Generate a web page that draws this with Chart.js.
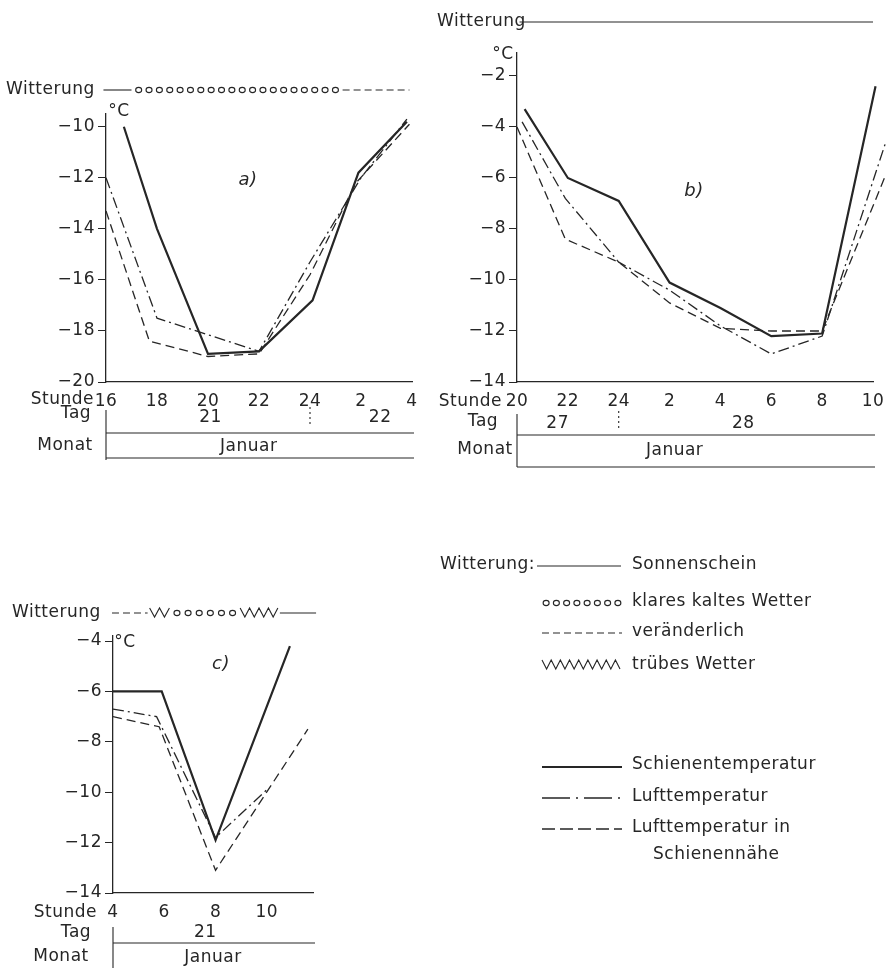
<!DOCTYPE html>
<html lang="de">
<head>
<meta charset="UTF-8">
<title>Schienentemperatur und Lufttemperatur</title>
<script src="https://cdn.jsdelivr.net/npm/chart.js"></script>
<style>
  body { margin: 0; background: #fff; }
  .blatt { position: relative; width: 892px; height: 968px; }
  .blatt canvas { position: absolute; left: 0; top: 0; }
</style>
</head>
<body>
<div class="blatt">
  <canvas id="bildA" width="892" height="968"></canvas>
  <canvas id="bildB" width="892" height="968"></canvas>
  <canvas id="bildC" width="892" height="968"></canvas>
</div>
<script>
// --- Messwerte (Stunde, Temperatur in °C) ---
// a) 21./22. Januar
const stundenA_schiene = [16.7, 18, 20, 22, 24.1, 25.9, 27.8];
const tempA_schiene    = [-10.0, -14.0, -18.9, -18.8, -16.8, -11.8, -9.8];
const stundenA_luft    = [16, 18, 22, 24, 26, 27.8];
const tempA_luft       = [-12.0, -17.5, -18.8, -15.3, -12.0, -9.7];
const stundenA_nah     = [16, 17.7, 20, 22, 24, 25.8, 27.9];
const tempA_nah        = [-13.3, -18.4, -19.0, -18.9, -15.8, -12.2, -9.9];

// b) 27./28. Januar
const stundenB_schiene = [20.3, 22, 24, 26, 28, 30, 32, 34.1];
const tempB_schiene    = [-3.3, -6.0, -6.9, -10.1, -11.1, -12.2, -12.1, -2.4];
const stundenB_luft    = [20.2, 21.9, 24, 26, 28, 30, 32, 34.5];
const tempB_luft       = [-3.8, -6.8, -9.3, -10.4, -11.8, -12.9, -12.2, -4.6];
const stundenB_nah     = [20, 21.9, 24, 26, 28, 30, 32, 34.45];
const tempB_nah        = [-4.0, -8.4, -9.3, -10.9, -11.9, -12.0, -12.0, -6.0];

// c) 21. Januar
const stundenC_schiene = [4, 5.9, 8, 10.9];
const tempC_schiene    = [-6.0, -6.0, -11.9, -4.2];
const stundenC_luft    = [4, 5.7, 8, 10];
const tempC_luft       = [-6.7, -7.0, -11.8, -9.9];
const stundenC_nah     = [4, 5.8, 8, 11.6];
const tempC_nah        = [-7.0, -7.4, -13.1, -7.5];

// Witterung: Art je Abschnitt und Abschnittsgrenzen in Stunden
const wetterA = ['sonne', 'klar', 'wechsel'];
const grenzenA = [15.9, 17.0, 25.2, 27.9];
const wetterB = ['sonne'];
const grenzenB = [20.1, 34.0];
const wetterC = ['wechsel', 'trueb', 'klar', 'trueb', 'sonne'];
const grenzenC = [3.96, 5.35, 6.2, 8.88, 10.43, 11.92];

// Tage und Monat unter der Zeitachse
const tageA = ['21', '22'];
const tagStundenA = [20.1, 26.75];
const tageB = ['27', '28'];
const tagStundenB = [21.6, 28.9];
const tageC = ['21'];
const tagStundenC = [7.6];

const reihenNamen = ['Schienentemperatur', 'Lufttemperatur', 'Lufttemperatur in', 'Schienennähe'];
const wetterNamen = ['Sonnenschein', 'klares kaltes Wetter', 'veränderlich', 'trübes Wetter'];

const tinte = '#262626';
const familie = '"DejaVu Sans", "Liberation Sans", sans-serif';
const schrift = '17px ' + familie;
const abstand = '0.5px';

const stil = {
  schiene: { borderColor: tinte, borderWidth: 2.2 },
  luft:    { borderColor: tinte, borderWidth: 1.3, borderDash: [11, 4, 2, 4] },
  nah:     { borderColor: tinte, borderWidth: 1.3, borderDash: [9, 5] }
};

function reihe(stunden, temps, art, ohneClip) {
  return Object.assign({
    data: stunden.map((h, i) => ({ x: h, y: temps[i] })),
    clip: ohneClip ? false : undefined
  }, stil[art]);
}

function muster(ctx, art, x1, x2, y) {
  ctx.save();
  ctx.strokeStyle = tinte;
  ctx.lineWidth = 1.1;
  ctx.setLineDash([]);
  ctx.beginPath();
  if (art === 'sonne') {
    ctx.moveTo(x1, y); ctx.lineTo(x2, y);
  } else if (art === 'wechsel') {
    ctx.setLineDash([7, 4]);
    ctx.moveTo(x1, y); ctx.lineTo(x2, y);
  } else if (art === 'klar') {
    const n = Math.max(1, Math.round((x2 - x1) / 10.5));
    const d = (x2 - x1) / n;
    for (let i = 0; i < n; i++) {
      const cx = x1 + d * (i + 0.5);
      ctx.moveTo(cx + 3, y);
      ctx.ellipse(cx, y, 3, 2.6, 0, 0, Math.PI * 2);
    }
  } else if (art === 'trueb') {
    const n = Math.max(2, Math.round((x2 - x1) / 4.5));
    const d = (x2 - x1) / n;
    ctx.moveTo(x1, y - 5);
    for (let i = 1; i <= n; i++) ctx.lineTo(x1 + d * i, i % 2 ? y + 4 : y - 5);
  }
  ctx.stroke();
  ctx.restore();
}

function text(ctx, t, x, y, align, font) {
  ctx.font = font || schrift;
  ctx.textAlign = align || 'left';
  ctx.textBaseline = 'middle';
  ctx.fillStyle = tinte;
  ctx.fillText(t, x, y);
}

function linie(ctx, x1, y1, x2, y2, dash) {
  ctx.save();
  ctx.strokeStyle = tinte;
  ctx.lineWidth = 1.1;
  ctx.setLineDash(dash || []);
  ctx.beginPath(); ctx.moveTo(x1, y1); ctx.lineTo(x2, y2); ctx.stroke();
  ctx.restore();
}

const beiwerk = {
  id: 'beiwerk',
  beforeDraw(chart) {
    chart.ctx.letterSpacing = abstand;
  },
  afterDraw(chart, args, o) {
    const ctx = chart.ctx;
    const xs = chart.scales.x;
    const ca = chart.chartArea;
    const px = h => xs.getPixelForValue(h);
    ctx.save();
    ctx.letterSpacing = abstand;

    // Witterung
    const w = o.witterung;
    text(ctx, 'Witterung', w.labelX, w.y);
    w.teile.forEach((art, i) => {
      muster(ctx, art, px(w.grenzen[i]) + (i ? 2 : 0), px(w.grenzen[i + 1]), w.y);
    });

    text(ctx, '°C', o.grad.x, o.grad.y, 'center');
    text(ctx, o.panel.text, o.panel.x, o.panel.y, 'center', 'italic 18px ' + familie);

    // Stunde / Tag / Monat
    const z = o.zeilen;
    text(ctx, 'Stunde', z.stundeX, z.stundeY, 'right');
    text(ctx, 'Tag', z.tagX, z.tagY, 'center');
    text(ctx, 'Monat', z.monatX, z.monatY, 'center');
    z.tage.forEach((t, i) => text(ctx, t, px(z.tagStunden[i]), z.tagTextY, 'center'));
    text(ctx, 'Januar', px(z.monatStunde), z.monatTextY, 'center');
    linie(ctx, ca.left, z.oben, ca.left, z.unten);
    linie(ctx, ca.left, z.linie1, ca.right + 2, z.linie1);
    if (z.linie2) linie(ctx, ca.left, z.linie2, ca.right + 2, z.linie2);
    if (z.trenner) linie(ctx, px(z.trenner), z.oben - 3, px(z.trenner), z.linie1 - 6, [2, 3]);

    if (o.legende) {
      text(ctx, 'Witterung:', 440, 565);
      muster(ctx, 'sonne', 537, 621, 566);
      text(ctx, wetterNamen[0], 632, 565);
      muster(ctx, 'klar', 541, 623, 603);
      text(ctx, wetterNamen[1], 632, 602);
      muster(ctx, 'wechsel', 542, 622, 633);
      text(ctx, wetterNamen[2], 632, 632);
      muster(ctx, 'trueb', 542, 620, 665);
      text(ctx, wetterNamen[3], 632, 665);

      const probe = (y, s, dash) => {
        ctx.save();
        ctx.strokeStyle = tinte;
        ctx.lineWidth = s.borderWidth;
        ctx.setLineDash(dash);
        ctx.beginPath(); ctx.moveTo(542, y); ctx.lineTo(622, y); ctx.stroke();
        ctx.restore();
      };
      probe(767, stil.schiene, []);
      text(ctx, reihenNamen[0], 632, 765);
      probe(798, stil.luft, [28, 6, 2, 6]);
      text(ctx, reihenNamen[1], 632, 797);
      probe(829, stil.nah, [13, 5]);
      text(ctx, reihenNamen[2], 632, 828);
      text(ctx, reihenNamen[3], 653, 855);
    }
    ctx.restore();
  }
};

function diagramm(id, flaeche, xMin, xMax, yMin, yMax, datensaetze, deko) {
  const stundeText = v => {
    const h = v % 24;
    return h === 0 ? '24' : String(h);
  };
  return new Chart(document.getElementById(id), {
    type: 'line',
    data: { datasets: datensaetze },
    options: {
      responsive: false,
      animation: false,
      devicePixelRatio: 1,
      events: [],
      elements: { point: { radius: 0 }, line: { tension: 0 } },
      layout: {
        padding: {
          left: flaeche.left - 60,
          right: 892 - flaeche.right,
          top: flaeche.top,
          bottom: 968 - flaeche.bottom - 30
        }
      },
      plugins: { legend: { display: false }, tooltip: { enabled: false }, beiwerk: deko },
      scales: {
        x: {
          type: 'linear', min: xMin, max: xMax,
          grid: { display: false, drawTicks: false },
          border: { color: tinte, width: 1.3 },
          ticks: {
            stepSize: 2, includeBounds: false, padding: 9, maxRotation: 0,
            color: tinte, font: { family: familie, size: 17 },
            callback: stundeText
          },
          afterFit: s => { s.height = 30; s.paddingLeft = 0; s.paddingRight = 0; }
        },
        y: {
          min: yMin, max: yMax,
          grid: { drawOnChartArea: false, tickLength: 8, color: tinte, lineWidth: 1 },
          border: { color: tinte, width: 1.3 },
          ticks: {
            stepSize: 2, includeBounds: false, padding: 3,
            color: tinte, font: { family: familie, size: 17 },
            callback: v => '\u2212' + Math.abs(v)
          },
          afterFit: s => { s.width = 60; s.paddingTop = 0; s.paddingBottom = 0; }
        }
      }
    },
    plugins: [beiwerk]
  });
}

diagramm('bildA', { left: 106, right: 412, top: 114, bottom: 382 }, 16, 28, -20, -9.5, [
  reihe(stundenA_schiene, tempA_schiene, 'schiene'),
  reihe(stundenA_luft, tempA_luft, 'luft'),
  reihe(stundenA_nah, tempA_nah, 'nah')
], {
  witterung: { labelX: 6, y: 90, teile: wetterA, grenzen: grenzenA },
  grad: { x: 119, y: 112 },
  panel: { text: 'a)', x: 248, y: 180 },
  zeilen: {
    stundeX: 94, stundeY: 400, tagX: 76, tagY: 414, monatX: 65, monatY: 446,
    tage: tageA, tagStunden: tagStundenA, tagTextY: 418,
    monatStunde: 21.6, monatTextY: 447,
    oben: 410, unten: 460, linie1: 433, linie2: 458, trenner: 24
  }
});

diagramm('bildB', { left: 517, right: 873, top: 53, bottom: 382 }, 20, 34, -14, -1.1, [
  reihe(stundenB_schiene, tempB_schiene, 'schiene', true),
  reihe(stundenB_luft, tempB_luft, 'luft', true),
  reihe(stundenB_nah, tempB_nah, 'nah', true)
], {
  witterung: { labelX: 437, y: 22, teile: wetterB, grenzen: grenzenB },
  grad: { x: 503, y: 55 },
  panel: { text: 'b)', x: 694, y: 191 },
  zeilen: {
    stundeX: 502, stundeY: 402, tagX: 483, tagY: 422, monatX: 485, monatY: 450,
    tage: tageB, tagStunden: tagStundenB, tagTextY: 424,
    monatStunde: 26.2, monatTextY: 451,
    oben: 414, unten: 467, linie1: 435, linie2: 467, trenner: 24
  }
});

diagramm('bildC', { left: 113, right: 313, top: 636, bottom: 893 }, 4, 11.8, -14, -3.8, [
  reihe(stundenC_schiene, tempC_schiene, 'schiene'),
  reihe(stundenC_luft, tempC_luft, 'luft'),
  reihe(stundenC_nah, tempC_nah, 'nah')
], {
  witterung: { labelX: 12, y: 613, teile: wetterC, grenzen: grenzenC },
  grad: { x: 125, y: 643 },
  panel: { text: 'c)', x: 221, y: 664 },
  zeilen: {
    stundeX: 97, stundeY: 913, tagX: 76, tagY: 933, monatX: 61, monatY: 957,
    tage: tageC, tagStunden: tagStundenC, tagTextY: 933,
    monatStunde: 7.9, monatTextY: 958,
    oben: 927, unten: 968, linie1: 943, linie2: 0, trenner: 0
  },
  legende: true
});
</script>
</body>
</html>
